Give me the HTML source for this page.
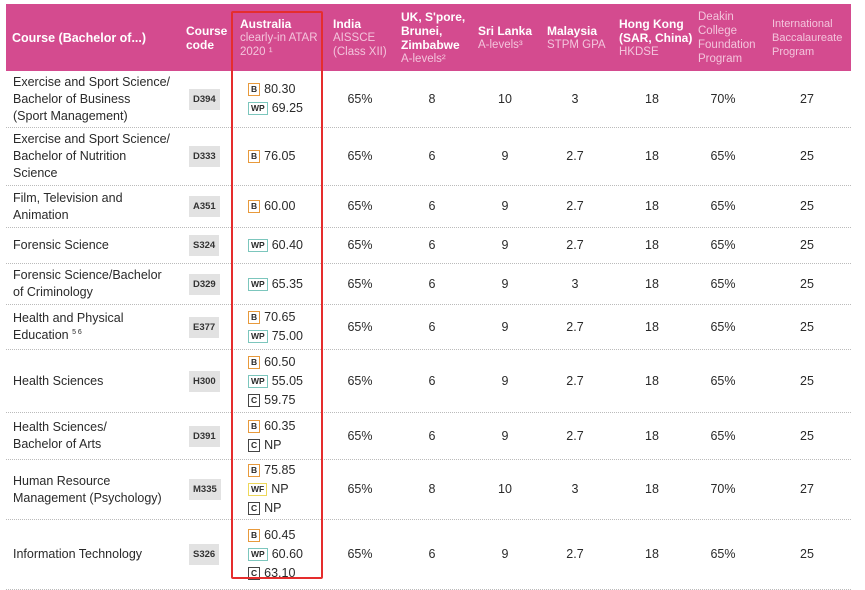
<!DOCTYPE html>
<html><head><meta charset="utf-8"><style>
*{margin:0;padding:0;box-sizing:border-box}
body{width:865px;height:588px;background:#fff;font-family:"Liberation Sans","DejaVu Sans",sans-serif;position:relative;overflow:hidden;color:#2a2a2a}
.hdr{position:absolute;left:6px;top:4px;width:845px;height:67px;background:#d44b8f}
.h{position:absolute;color:#fff;font-size:12px;line-height:14px;display:flex;flex-direction:column;justify-content:center;height:67px;top:4px}
.h b{font-weight:bold}
.h span{color:#f3c4dc;font-size:11.5px}
.row{position:absolute;left:6px;width:845px;border-bottom:1px dotted #bbb}
.c{position:absolute;top:0;height:100%;display:flex;align-items:center;font-size:12.5px;line-height:17px}
.n{justify-content:center;text-align:center}
.code{background:#e2e2e2;font-size:9.5px;font-weight:bold;padding:2px 4px;color:#333}
.au{flex-direction:column;align-items:flex-start;justify-content:center}
.au div{display:flex;align-items:center;height:19px;font-size:12.5px}
.bd{display:inline-block;border:1.5px solid;font-size:8.5px;font-weight:bold;padding:0 2px;line-height:11px;margin-right:4px}
.B{border-color:#e89a3c}.WP{border-color:#7cc6bd}.WF{border-color:#eed85a}.C{border-color:#444}
.box{position:absolute;left:231px;top:11px;width:92px;height:568px;border:2.5px solid #e52d2d;border-radius:2px}
sup{font-size:7px;vertical-align:super;line-height:0}
</style></head><body>
<div class="hdr"></div>
<div class="h" style="left:12px"><b style="font-size:12.5px">Course (Bachelor of...)</b></div>
<div class="h" style="left:186px"><b>Course<br>code</b></div>
<div class="h" style="left:240px"><b>Australia</b><span>clearly-in ATAR<br>2020 ¹</span></div>
<div class="h" style="left:333px"><b>India</b><span>AISSCE<br>(Class XII)</span></div>
<div class="h" style="left:401px"><b>UK, S'pore,<br>Brunei,<br>Zimbabwe</b><span>A-levels²</span></div>
<div class="h" style="left:478px"><b>Sri Lanka</b><span>A-levels³</span></div>
<div class="h" style="left:547px"><b>Malaysia</b><span>STPM GPA</span></div>
<div class="h" style="left:619px"><b>Hong Kong<br>(SAR, China)</b><span>HKDSE</span></div>
<div class="h" style="left:698px"><span>Deakin<br>College<br>Foundation<br>Program</span></div>
<div class="h" style="left:772px"><span style="font-size:11px">International<br>Baccalaureate<br>Program</span></div>

<div id="rows"></div>
<script>
const R=[
[71,128,"Exercise and Sport Science/<br>Bachelor of Business<br>(Sport Management)","D394",[["B","80.30"],["WP","69.25"]],"65%","8","10","3","18","70%","27"],
[128,186,"Exercise and Sport Science/<br>Bachelor of Nutrition<br>Science","D333",[["B","76.05"]],"65%","6","9","2.7","18","65%","25"],
[186,228,"Film, Television and<br>Animation","A351",[["B","60.00"]],"65%","6","9","2.7","18","65%","25"],
[228,264,"Forensic Science","S324",[["WP","60.40"]],"65%","6","9","2.7","18","65%","25"],
[264,305,"Forensic Science/Bachelor<br>of Criminology","D329",[["WP","65.35"]],"65%","6","9","3","18","65%","25"],
[305,350,"<span>Health and Physical<br>Education <sup>5 6</sup></span>","E377",[["B","70.65"],["WP","75.00"]],"65%","6","9","2.7","18","65%","25"],
[350,413,"Health Sciences","H300",[["B","60.50"],["WP","55.05"],["C","59.75"]],"65%","6","9","2.7","18","65%","25"],
[413,460,"Health Sciences/<br>Bachelor of Arts","D391",[["B","60.35"],["C","NP"]],"65%","6","9","2.7","18","65%","25"],
[460,520,"Human Resource<br>Management (Psychology)","M335",[["B","75.85"],["WF","NP"],["C","NP"]],"65%","8","10","3","18","70%","27"],
[520,590,"Information Technology","S326",[["B","60.45"],["WP","60.60"],["C","63.10"]],"65%","6","9","2.7","18","65%","25"]];
const X=[360,432,505,575,652,723,807];
let h="";
for(const r of R){
 h+=`<div class="row" style="top:${r[0]}px;height:${r[1]-r[0]}px">`;
 h+=`<div class="c" style="left:7px">${r[2]}</div>`;
 h+=`<div class="c" style="left:183px"><span class="code">${r[3]}</span></div>`;
 h+=`<div class="c au" style="left:242px">${r[4].map(b=>`<div><span class="bd ${b[0]}">${b[0]}</span>${b[1]}</div>`).join("")}</div>`;
 for(let i=0;i<7;i++)h+=`<div class="c n" style="left:${X[i]-6-30}px;width:60px">${r[5+i]}</div>`;
 h+=`</div>`;
}
document.getElementById("rows").innerHTML=h;
</script>
<div class="box"></div>
</body></html>
